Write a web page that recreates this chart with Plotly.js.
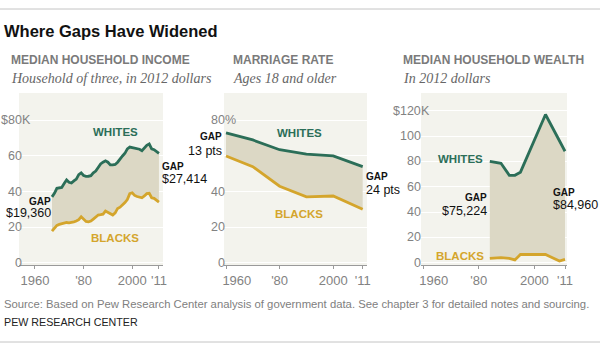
<!DOCTYPE html>
<html><head><meta charset="utf-8">
<script src="https://cdn.plot.ly/plotly-3.0.1.min.js"></script>
<style>html,body{margin:0;padding:0;background:#fff}#chart{width:600px;height:350px}</style>
</head><body><div id="chart"></div>
<script>
// ---------- DATA ----------
const incomeYears = [1967,1968,1969,1970,1971,1972,1973,1974,1975,1976,1977,1978,1979,1980,1981,1982,1983,1984,1985,1986,1987,1988,1989,1990,1991,1992,1993,1994,1995,1996,1997,1998,1999,2000,2001,2002,2003,2004,2005,2006,2007,2008,2009,2010,2011];
const incomeWhites = [37.0,39.0,41.8,42.0,42.3,44.5,46.5,45.2,44.8,46.0,47.0,49.5,50.5,49.0,48.5,48.6,48.9,50.5,51.5,53.5,55.5,56.5,57.3,56.5,55.0,55.0,55.2,56.5,58.5,60.0,61.5,64.0,65.0,64.7,64.3,64.2,63.8,63.0,64.5,66.0,66.8,64.0,63.5,62.5,61.5];
const incomeBlacks = [17.7,19.5,21.0,21.5,21.8,22.3,22.6,22.4,22.9,23.0,23.4,24.2,25.8,24.5,23.2,23.0,23.4,24.5,25.8,26.8,27.0,27.3,29.0,28.3,27.3,26.8,28.0,30.5,31.2,32.4,33.8,35.5,38.8,39.3,37.8,37.2,36.8,36.5,37.5,38.8,39.0,36.5,36.2,35.0,34.1];

const marriageYears = [1960,1970,1980,1990,2000,2011];
const marriageWhites = [73,69,63.5,61,60,54];
const marriageBlacks = [60,54,43,37,37.5,30];

const wealthYearsWhites = [1984,1988,1991,1993,1995,2004,2011];
const wealthWhites = [80,78.5,69,69,71.5,117,88];
const wealthYearsBlacks = [1984,1988,1991,1993,1995,2004,2009,2011];
const wealthBlacks = [3.5,4,3.5,2.2,6.5,6.5,1.3,2.7];

const xTickVals = [1960,1980,2000,2011];
const xTickText = ['1960',"'80",'2000',"'11"];
const xTickTextShifted = ['\u00a0\u00a0\u00a0\u00a0\u00a0\u00a01960',"'80",'2000',"'11"];

const incomeYTicks = [0,20,40,60,80];
const incomeYText = ['0','20','40','60','$80'];
const marriageYTicks = [0,20,40,60,80];
const marriageYText = ['0','20','40','','80'];
const wealthYTicks = [0,20,40,60,80,100,120];
const wealthYText = ['0','20','40','60','80','100','$120'];

const gapLabels = {
  incomeStart: '$19,360', incomeEnd: '$27,414',
  marriageStart: '13 pts', marriageEnd: '24 pts',
  wealthStart: '$75,224', wealthEnd: '$84,960'
};

// ---------- STYLE ----------
const W = 600, H = 350;
const px = x => x / W;
const py = y => 1 - y / H;
const GREEN = '#2b6e58', GOLD = '#d4a52c', FILL = '#dcd8c5', BG = '#f3f3ed';
const SANS = 'Liberation Sans, Arial, sans-serif';
const SERIF = 'Liberation Serif, Times New Roman, serif';
const TICKC = '#828282';

const yDom = [py(265), py(93)];
const panels = [
  {xd:[19,163], xr:[1953.42,2012.67], yr:[-1.3,95.4], years:[incomeYears,incomeYears], w:incomeWhites, b:incomeBlacks, yt:incomeYTicks, ytx:incomeYText, suf:'K', xtt:xTickText, lab:23},
  {xd:[224,367], xr:[1959.25,2012.61], yr:[-1.3,95.4], years:[marriageYears,marriageYears], w:marriageWhites, b:marriageBlacks, yt:marriageYTicks, ytx:marriageYText, suf:'%', xtt:xTickTextShifted, lab:226},
  {xd:[421,567], xr:[1959.28,2011.72], yr:[-1.8,134], years:[wealthYearsWhites,wealthYearsBlacks], w:wealthWhites, b:wealthBlacks, yt:wealthYTicks, ytx:wealthYText, suf:'K', xtt:xTickTextShifted, lab:422}
];

const data = [];
const layout = {
  width: W, height: H, margin:{l:0,r:0,t:0,b:0},
  paper_bgcolor:'#ffffff', plot_bgcolor: BG, showlegend:false,
  annotations: [], shapes: []
};
const ann = (x, y, text, opt) => Object.assign({xref:'paper', yref:'paper', x:px(x), y:py(y), text, showarrow:false, xanchor:'left', yanchor:'middle', borderpad:0}, opt);

panels.forEach((p, i) => {
  const n = i === 0 ? '' : String(i + 1);
  const xa = 'x' + n, ya = 'y' + n;
  data.push({x:p.years[1], y:p.b, xaxis:xa, yaxis:ya, mode:'lines', line:{width:0, color:GOLD}, hoverinfo:'skip'});
  data.push({x:p.years[0], y:p.w, xaxis:xa, yaxis:ya, mode:'lines', line:{width:0, color:GREEN}, fill:'tonexty', fillcolor:FILL, hoverinfo:'skip'});
  data.push({x:p.years[1], y:p.b, xaxis:xa, yaxis:ya, mode:'lines', line:{width:2.8, color:GOLD}});
  data.push({x:p.years[0], y:p.w, xaxis:xa, yaxis:ya, mode:'lines', line:{width:2.8, color:GREEN}});
  layout['xaxis' + n] = {domain:[px(p.xd[0]), px(p.xd[1])], range:p.xr, anchor:ya, showgrid:false, zeroline:false,
    showline:true, linecolor:'#9a9a9a', linewidth:1, ticks:'outside', ticklen:3, tickcolor:'#9a9a9a',
    tickvals:xTickVals, ticktext:p.xtt, tickfont:{family:SANS, size:13, color:TICKC}, fixedrange:true};
  layout['yaxis' + n] = {domain:yDom, range:p.yr, anchor:xa, showgrid:true, gridcolor:'#ffffff', gridwidth:1,
    zeroline:false, showline:false, ticks:'', tickvals:p.yt, showticklabels:false, fixedrange:true};
  p.yt.forEach((v, k) => {
    if (!p.ytx[k]) return;
    layout.annotations.push({xref:'paper', yref:ya, x:px(p.lab), y:v, text:p.ytx[k], showarrow:false,
      xanchor:'right', yanchor:'middle', font:{family:SANS, size:12.5, color:TICKC}, borderpad:0});
    if (k === p.yt.length - 1) {
      layout.annotations.push({xref:'paper', yref:ya, x:px(p.lab - 2), y:v, text:p.suf, showarrow:false,
        xanchor:'left', yanchor:'middle', font:{family:SANS, size:12.5, color:TICKC}, borderpad:0});
    }
  });
});

const lblW = {family:SANS, size:11.5, color:GREEN};
const lblB = {family:SANS, size:11.5, color:GOLD};
const gapF = {family:SANS, size:10, color:'#111'};
const valF = {family:SANS, size:12.5, color:'#111'};
[[115,132,238],[299,133,214],[460,159,256]].forEach(([cx, wy, by]) => {
  layout.annotations.push(ann(cx, wy, '<b>WHITES</b>', {xanchor:'center', font:lblW}));
  layout.annotations.push(ann(cx, by, '<b>BLACKS</b>', {xanchor:'center', font:lblB}));
});
layout.annotations.push(ann(52, 201, '<b>GAP</b>', {xanchor:'right', font:gapF}));
layout.annotations.push(ann(52, 213, gapLabels.incomeStart, {xanchor:'right', font:valF}));
layout.annotations.push(ann(161, 166, '<b>GAP</b>', {font:gapF}));
layout.annotations.push(ann(161, 179, gapLabels.incomeEnd, {font:valF}));
layout.annotations.push(ann(223, 136, '<b>GAP</b>', {xanchor:'right', font:gapF}));
layout.annotations.push(ann(223, 151, gapLabels.marriageStart, {xanchor:'right', font:valF}));
layout.annotations.push(ann(365, 176, '<b>GAP</b>', {font:gapF}));
layout.annotations.push(ann(365, 190, gapLabels.marriageEnd, {font:valF}));
layout.annotations.push(ann(488, 197, '<b>GAP</b>', {xanchor:'right', font:gapF}));
layout.annotations.push(ann(488, 211, gapLabels.wealthStart, {xanchor:'right', font:valF}));
layout.annotations.push(ann(552, 192, '<b>GAP</b>', {font:gapF}));
layout.annotations.push(ann(552, 205, gapLabels.wealthEnd, {font:valF}));

layout.annotations.push(ann(3, 31, '<b>Where Gaps Have Widened</b>', {font:{family:SANS, size:16.5, color:'#111'}}));
const hdrF = {family:SANS, size:12, color:'#7a7a7a'};
const subF = {family:SERIF, size:14, color:'#666'};
[[10,'MEDIAN HOUSEHOLD INCOME','Household of three, in 2012 dollars'],
 [232,'MARRIAGE RATE','Ages 18 and older'],
 [402,'MEDIAN HOUSEHOLD WEALTH','In 2012 dollars']].forEach(([x, h, s]) => {
  layout.annotations.push(ann(x, 60, '<b>' + h + '</b>', {font:hdrF}));
  layout.annotations.push(ann(x, 78, '<i>' + s + '</i>', {font:subF}));
});
layout.annotations.push(ann(3, 304, 'Source: Based on Pew Research Center analysis of government data. See chapter 3 for detailed notes and sourcing.', {font:{family:SANS, size:11.3, color:'#808080'}}));
layout.annotations.push(ann(3, 322, 'PEW RESEARCH CENTER', {font:{family:SANS, size:10.7, color:'#222'}}));
layout.shapes.push({type:'line', xref:'paper', yref:'paper', x0:0, x1:1, y0:py(9), y1:py(9), line:{color:'#c4c4c4', width:1}});
layout.shapes.push({type:'line', xref:'paper', yref:'paper', x0:0, x1:1, y0:py(342), y1:py(342), line:{color:'#c4c4c4', width:1}});

Plotly.newPlot('chart', data, layout, {staticPlot:true, displayModeBar:false});
</script>
</body></html>
